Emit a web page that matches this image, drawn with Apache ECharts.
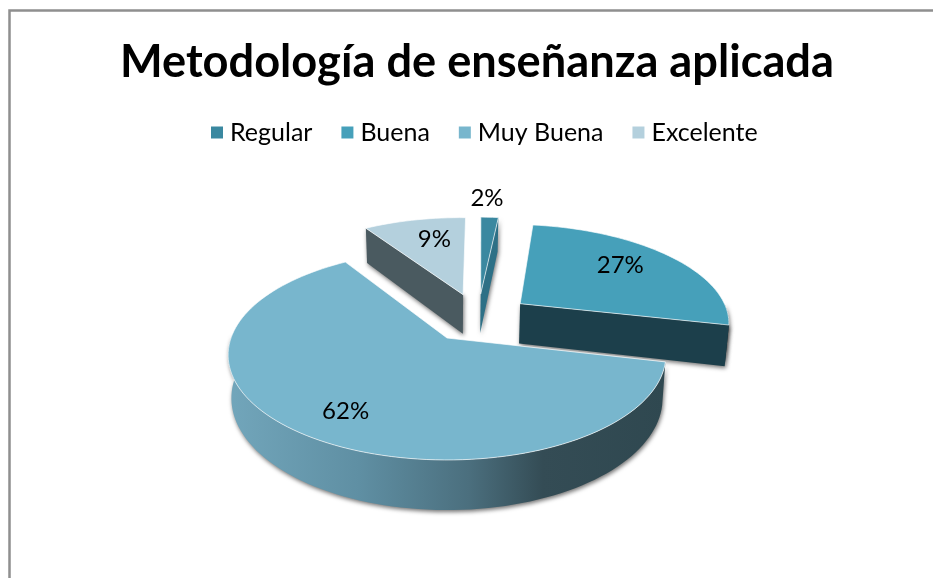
<!DOCTYPE html>
<html>
<head>
<meta charset="utf-8">
<style>
  html, body { margin: 0; padding: 0; background: #fff; }
  #pie-chart { width: 933px; height: 578px; }
</style>
</head>
<body>
<div id="pie-chart"></div>
<script src="https://cdn.jsdelivr.net/npm/echarts@6/dist/echarts.min.js"></script>
<script>
const titleText = "Metodología de enseñanza aplicada";
const categories = ["Regular", "Buena", "Muy Buena", "Excelente"];
const values = [1.6, 26.6, 62.4, 9.4];

const topColors = ["#3a88a0", "#46a0ba", "#78b6cd", "#b4d0dd"];
const cutColors = ["#2d7086", "#1c3f4b", null, "#4a5a60"];
// which straight cut of the slice faces the viewer
const cutEdges = ["end", "end", null, "start"];
const seriesZ = [3, 4, 5, 2];

// label placement: fraction of radius along the bisector + small pixel nudge
const labelRadius = [1.32, 0.65, 0.72, 0.62];
const labelNudge = [[-5, 1], [1, -6], [-2, 7], [3, -7]];

// projection of the pie plane, perspective tilt fitted to the picture
const originX = 447;
const originY = 338;
const scaleX = 216;
const scaleY = 102.2;
const tilt = 0.162;
const wallHeight = 42;
const bottomShrink = 0.985;
const explode = 0.256;
const mainSlice = 2;
const firstAngle = 1.5;

const total = values.reduce((a, b) => a + b, 0);

function toRad(deg) {
  return (deg * Math.PI) / 180;
}

// angles run clockwise from 12 o'clock
let running = 0;
const slices = values.map((v) => {
  const start = firstAngle + (running / total) * 360;
  running += v;
  const end = firstAngle + (running / total) * 360;
  return { start, end, mid: (start + end) / 2 };
});

const originShift = [
  explode * Math.sin(toRad(slices[mainSlice].mid)),
  -explode * Math.cos(toRad(slices[mainSlice].mid))
];

function project(u, v) {
  const w = 1 - tilt * v;
  return { x: originX + (scaleX * u) / w, y: originY + (scaleY * v) / w, w };
}

function pointOf(slice, angle, radius) {
  const ox = explode * Math.sin(toRad(slice.mid)) - originShift[0];
  const oy = -explode * Math.cos(toRad(slice.mid)) - originShift[1];
  return project(ox + radius * Math.sin(toRad(angle)), oy - radius * Math.cos(toRad(angle)));
}

function topPoint(p) {
  return [p.x, p.y];
}

function bottomPoint(p) {
  return [originX + (p.x - originX) * bottomShrink, p.y + wallHeight / p.w];
}

function arcAngles(a, b) {
  const out = [];
  const steps = Math.max(2, Math.ceil((b - a) / 2));
  for (let i = 0; i <= steps; i++) {
    out.push(a + ((b - a) * i) / steps);
  }
  return out;
}

const rimGradient = new echarts.graphic.LinearGradient(0, 0, 1, 0, [
  { offset: 0, color: "#72a6bb" },
  { offset: 0.3, color: "#5f8fa3" },
  { offset: 0.55, color: "#4b6f7e" },
  { offset: 0.72, color: "#344c55" },
  { offset: 1, color: "#2f4850" }
]);

function renderSlice(index) {
  const slice = slices[index];
  const apex = pointOf(slice, slice.start, 0);
  const children = [];
  const shadow = { shadowBlur: 4, shadowColor: "rgba(0,0,0,0.55)", shadowOffsetX: 1, shadowOffsetY: 2 };

  // outer rim, only the part turned to the viewer
  const rimA = Math.max(slice.start, 90);
  const rimB = Math.min(slice.end, 272);
  if (rimB > rimA) {
    const arc = arcAngles(rimA, rimB).map((a) => pointOf(slice, a, 1));
    const pts = arc.map(topPoint).concat(arc.slice().reverse().map(bottomPoint));
    children.push({
      type: "polygon",
      shape: { points: pts },
      style: Object.assign({ fill: index === mainSlice ? rimGradient : cutColors[index] }, shadow)
    });
  }

  // straight cut
  if (cutEdges[index]) {
    const edge = pointOf(slice, cutEdges[index] === "end" ? slice.end : slice.start, 1);
    children.push({
      type: "polygon",
      shape: { points: [topPoint(apex), topPoint(edge), bottomPoint(edge), bottomPoint(apex)] },
      style: Object.assign({ fill: cutColors[index] }, shadow)
    });
  }

  // top face
  const face = [topPoint(apex)].concat(
    arcAngles(slice.start, slice.end).map((a) => topPoint(pointOf(slice, a, 1)))
  );
  children.push({
    type: "polygon",
    shape: { points: face },
    style: { fill: topColors[index], stroke: "rgba(255,255,255,0.65)", lineWidth: 1 }
  });

  // percent label
  const lab = pointOf(slice, slice.mid, labelRadius[index]);
  children.push({
    type: "text",
    style: {
      text: Math.round((values[index] / total) * 100) + "%",
      x: lab.x + labelNudge[index][0],
      y: lab.y + labelNudge[index][1],
      align: "center",
      verticalAlign: "middle",
      fontFamily: "Lato",
      fontSize: 24,
      fill: "#000"
    }
  });

  return { type: "group", children };
}

const myChart = echarts.init(document.getElementById("pie-chart"), null, { renderer: "canvas" });

myChart.setOption({
  animation: false,
  backgroundColor: "#fff",
  title: {
    text: titleText,
    left: 115,
    top: 35,
    textStyle: { fontFamily: "Lato", fontWeight: "bold", fontSize: 45.2, color: "#000" }
  },
  legend: {
    left: 206,
    top: 115,
    icon: "rect",
    itemWidth: 12,
    itemHeight: 12,
    itemGap: 29,
    textStyle: { fontFamily: "Lato", fontSize: 25, color: "#000", padding: [0, 0, 0, 2] },
    data: categories
  },
  graphic: [
    {
      type: "polyline",
      shape: { points: [[9.5, 578], [9.5, 10.5], [933, 10.5]] },
      style: { fill: null, stroke: "#8f8f8f", lineWidth: 2.5 },
      silent: true
    }
  ],
  series: categories.map((name, i) => ({
    type: "custom",
    name,
    coordinateSystem: "none",
    z: seriesZ[i],
    itemStyle: { color: topColors[i] },
    data: [values[i]],
    renderItem: () => renderSlice(i)
  }))
});
</script>
</body>
</html>
